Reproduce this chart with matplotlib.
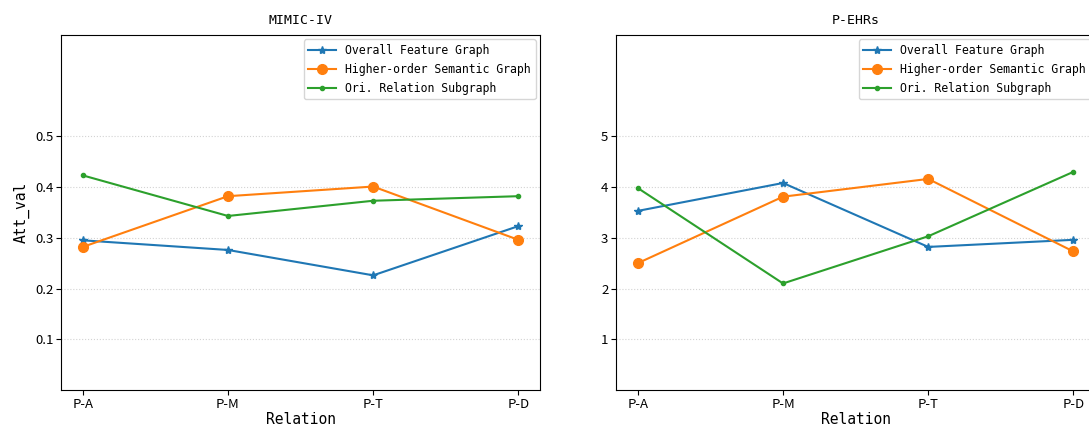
import numpy as np
import matplotlib.pyplot as plt

plt.rcParams['font.family'] = ['Noto Sans CJK SC', 'DejaVu Sans']
mono = 'DejaVu Sans Mono'

# datos
relations = ['P-A', 'P-M', 'P-T', 'P-D']
names = ['Overall Feature Graph', 'Higher-order Semantic Graph', 'Ori. Relation Subgraph']

mimic_overall = [0.295, 0.276, 0.226, 0.323]
mimic_higher = [0.282, 0.382, 0.401, 0.296]
mimic_ori = [0.423, 0.343, 0.373, 0.382]

ehr_overall = [3.53, 4.08, 2.82, 2.96]
ehr_higher = [2.50, 3.81, 4.16, 2.73]
ehr_ori = [3.98, 2.10, 3.03, 4.30]

mimic_ticks = [0.1, 0.2, 0.3, 0.4, 0.5]
ehr_ticks = [1, 2, 3, 4, 5]

fig = plt.figure(figsize=(10.89, 4.30), dpi=100)
ax1 = fig.add_axes([0.056, 0.093, 0.44, 0.826])
ax2 = fig.add_axes([0.5657, 0.093, 0.44, 0.826])

x = np.arange(len(relations))


def draw(ax, series, ticks, ylim, title):
    styles = [('*', 6, 'tab:blue'), ('o', 7, 'tab:orange'), ('.', 6, 'tab:green')]
    for vals, name, (m, ms, c) in zip(series, names, styles):
        ax.plot(x, vals, marker=m, markersize=ms, color=c, linewidth=1.5, label=name)
    ax.set_xticks(x)
    ax.set_xticklabels(relations)
    ax.tick_params(labelsize=9.5, pad=2)
    ax.set_ylim(*ylim)
    ax.set_yticks(ticks)
    ax.yaxis.grid(True, linestyle=':', color='lightgrey', linewidth=0.8)
    ax.set_xlabel('Relation', fontsize=10.5, family=mono, labelpad=1)
    ax.set_title(title, fontsize=9.5, family=mono, pad=8)
    ax.legend(loc='upper right', prop={'family': mono, 'size': 8.3},
              handlelength=2.4, borderaxespad=0.4, labelspacing=0.5)


draw(ax1, [mimic_overall, mimic_higher, mimic_ori], mimic_ticks, (0, 0.7), 'MIMIC-IV')
ax1.set_ylabel('Att_val', fontsize=10.5, family=mono, labelpad=4)
draw(ax2, [ehr_overall, ehr_higher, ehr_ori], ehr_ticks, (0, 7), 'P-EHRs')

fig.savefig('out.png', dpi=100)
